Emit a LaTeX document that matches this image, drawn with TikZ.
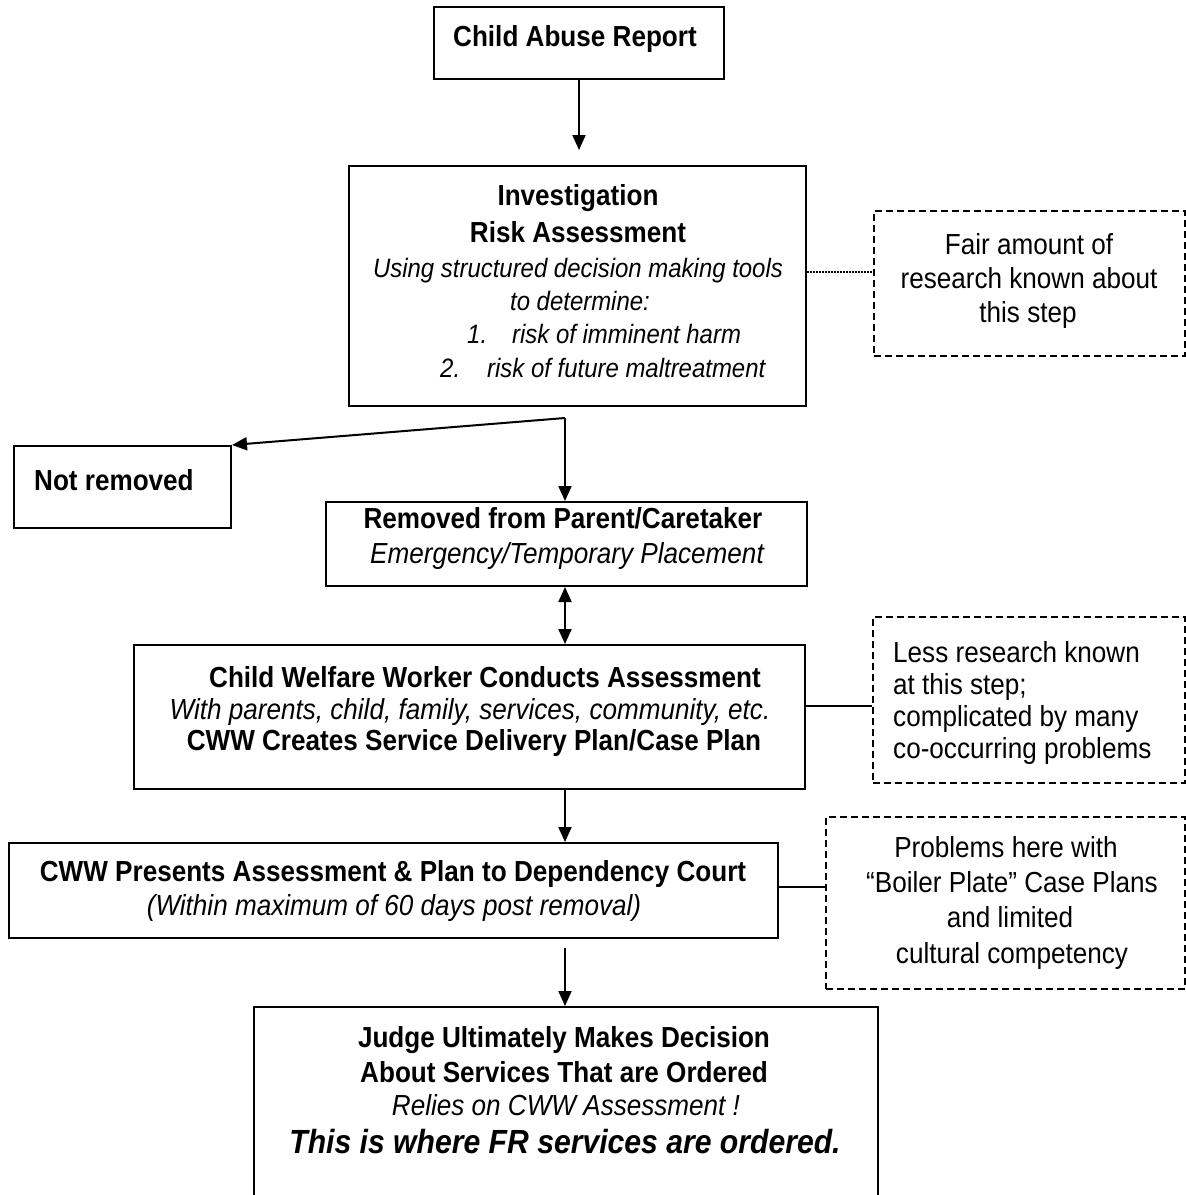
\documentclass[tikz,border=0pt]{standalone}
\usepackage{fontspec}
\setmainfont[FakeStretch=0.9]{Liberation Sans}
\usetikzlibrary{arrows.meta}

\begin{document}
\begin{tikzpicture}[x=1pt,y=-1pt,
  box/.style={draw, line width=2pt, inner sep=0pt, anchor=north west},
  notebox/.style={draw, line width=1.8pt, dash pattern=on 7pt off 4pt, inner sep=0pt, anchor=north west},
  txt/.style={inner sep=0pt, anchor=base, font=\fontsize{29}{34}\selectfont},
  btxt/.style={txt, font=\fontsize{29}{34}\selectfont\bfseries},
  itxt/.style={txt, font=\fontsize{29}{34}\selectfont\itshape},
  sitxt/.style={txt, font=\fontsize{26.6}{32}\selectfont\itshape},
  flow/.style={line width=2pt, -{Triangle[width=13pt,length=15pt]}},
  both/.style={line width=2pt, {Triangle[width=13pt,length=15pt]}-{Triangle[width=13pt,length=15pt]}},
  link/.style={line width=2pt},
  dotlink/.style={line width=1.5pt, dash pattern=on 1.5pt off 1.5pt},
]
\useasboundingbox (0,0) rectangle (1186,1195);
\fill[white] (0,0) rectangle (1186,1195);
\clip (0,0) rectangle (1186,1195);

% boxes of the main flow
\node[box, minimum width=290pt, minimum height=72pt]  (report)  at (433,6) {};
\node[box, minimum width=457pt, minimum height=240pt] (invest)  at (348,165) {};
\node[box, minimum width=217pt, minimum height=82pt]  (notrem)  at (13,445) {};
\node[box, minimum width=481pt, minimum height=84pt]  (removed) at (325,501) {};
\node[box, minimum width=671pt, minimum height=144pt] (cww)     at (133,644) {};
\node[box, minimum width=769pt, minimum height=95pt]  (court)   at (8,842) {};
\node[box, minimum width=624pt, minimum height=240pt] (judge)   at (253,1006) {};

% dashed side notes
\node[notebox, minimum width=311pt, minimum height=145pt] (note1) at (873,210) {};
\node[notebox, minimum width=312pt, minimum height=166pt] (note2) at (872,616) {};
\node[notebox, minimum width=359pt, minimum height=172pt] (note3) at (825,816) {};

% texts
\node[btxt] (reportT) at (575,46.7) {Child Abuse Report};

\node[btxt]  (investA) at (578,205) {Investigation};
\node[btxt]  (investB) at (578,242) {Risk Assessment};
\node[sitxt] (investC) at (578,277) {Using structured decision making tools};
\node[sitxt] (investD) at (580,310) {to determine:};
\node[sitxt, anchor=base west] (itemA) at (467,343) {1.};
\node[sitxt, anchor=base west] (itemAT) at (512,343) {risk of imminent harm};
\node[sitxt, anchor=base west] (itemB) at (440,377) {2.};
\node[sitxt, anchor=base west] (itemBT) at (487,377) {risk of future maltreatment};

\node[txt] (note1A) at (1029,254) {Fair amount of};
\node[txt] (note1B) at (1029,288) {research known about};
\node[txt] (note1C) at (1028,322) {this step};

\node[btxt, anchor=base west] (notremT) at (34,490) {Not removed};

\node[btxt] (removedA) at (563,528) {Removed from Parent/Caretaker};
\node[itxt] (removedB) at (567,563) {Emergency/Temporary Placement};

\node[btxt] (cwwA) at (485,687) {Child Welfare Worker Conducts Assessment};
\node[itxt] (cwwB) at (470,719) {With parents, child, family, services, community, etc.};
\node[btxt] (cwwC) at (474,750) {CWW Creates Service Delivery Plan/Case Plan};

\node[txt, anchor=base west] (note2A) at (893,662) {Less research known};
\node[txt, anchor=base west] (note2B) at (893,694) {at this step;};
\node[txt, anchor=base west] (note2C) at (893,726) {complicated by many};
\node[txt, anchor=base west] (note2D) at (893,758) {co-occurring problems};

\node[btxt] (courtA) at (393,881) {CWW Presents Assessment \& Plan to Dependency Court};
\node[itxt] (courtB) at (394,915) {(Within maximum of 60 days post removal)};

\node[txt] (note3A) at (1006,857) {Problems here with};
\node[txt] (note3B) at (1012,892) {“Boiler Plate” Case Plans};
\node[txt] (note3C) at (1010,927) {and limited};
\node[txt] (note3D) at (1012,963) {cultural competency};

\node[btxt] (judgeA) at (564,1047) {Judge Ultimately Makes Decision};
\node[btxt] (judgeB) at (564,1082) {About Services That are Ordered};
\node[itxt] (judgeC) at (566,1115) {Relies on CWW Assessment !};
\node[txt, font=\fontsize{33.5}{40}\selectfont\bfseries\itshape] (judgeD) at (565,1153) {This is where FR services are ordered.};

% connectors
\coordinate (split) at (565,418);
\draw[flow, shorten >=15pt] (report.south) -- (report.south |- invest.north);
\draw[flow] (split) -- (notrem.north east);
\draw[flow] (split) -- (split |- removed.north);
\draw[both] (split |- removed.south) -- (split |- cww.north);
\draw[flow] (split |- cww.south) -- (split |- court.north);
\draw[flow, shorten <=9pt] (split |- court.south) -- (split |- judge.north);

\draw[dotlink] ([yshift=14pt]invest.east) -- ([yshift=14pt]invest.east -| note1.west);
\draw[link] ([yshift=11pt]cww.east) -- ([yshift=11pt]cww.east -| note2.west);
\draw[link] ([yshift=3.5pt]court.east) -- ([yshift=3.5pt]court.east -| note3.west);
\end{tikzpicture}
\end{document}
